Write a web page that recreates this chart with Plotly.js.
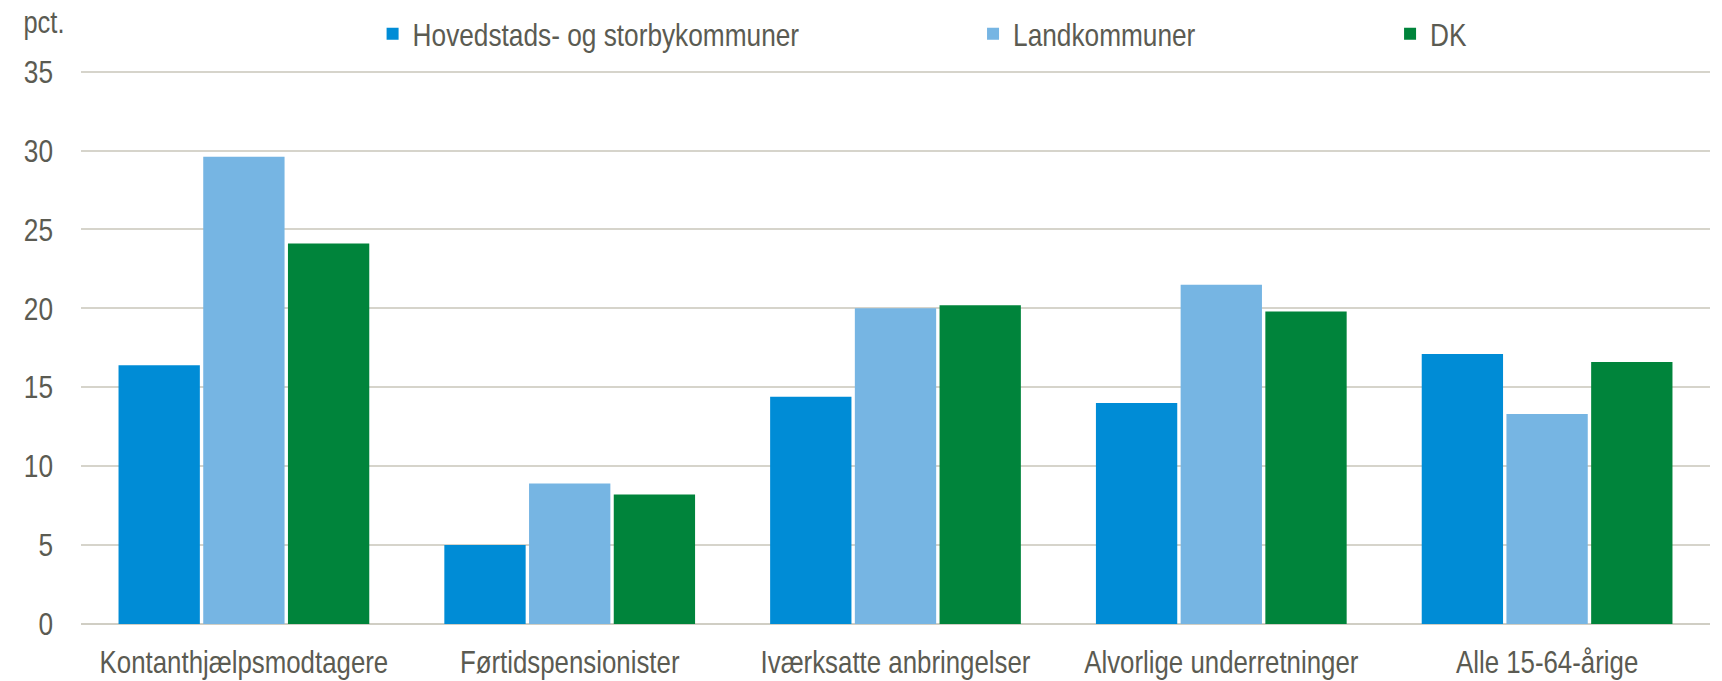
<!DOCTYPE html>
<html>
<head>
<meta charset="utf-8">
<script src="https://cdn.plot.ly/plotly-3.0.1.min.js"></script>
<style>html,body{margin:0;padding:0;background:#fff;}#chart{width:1722px;height:681px;}</style>
</head>
<body>
<div id="chart"></div>
<script>
const categories = ["Kontanthjælpsmodtagere", "Førtidspensionister", "Iværksatte anbringelser", "Alvorlige underretninger", "Alle 15-64-årige"];
const seriesNames = ["Hovedstads- og storbykommuner", "Landkommuner", "DK"];
const hovedstad = [16.4, 5.0, 14.4, 14.0, 17.1];
const landkommuner = [29.6, 8.9, 20.0, 21.5, 13.3];
const dk = [24.1, 8.2, 20.2, 19.8, 16.6];
const yTicks = [0, 5, 10, 15, 20, 25, 30, 35];
const yTitle = "pct.";

const colors = ["#008cd6", "#76b5e3", "#00843b"];
const FONT = "'Liberation Sans Narrow', 'Arial Narrow', 'Liberation Sans', Arial, sans-serif";
const TXT = "#5b5b52";
const NARROW = 0.82;
const values = [hovedstad, landkommuner, dk];
const legendIds = ["legend", "legend2", "legend3"];

const traces = values.map((v, i) => ({
  type: "bar",
  name: seriesNames[i],
  x: categories,
  y: v,
  marker: {color: colors[i], line: {width: 0}},
  legend: legendIds[i],
  hoverinfo: "x+y+name"
}));

const legendX = [0.179, 0.5476, 0.8036];
const legendBase = {
  orientation: "h", yanchor: "middle", y: 1.065, xanchor: "left",
  font: {family: FONT, size: 32, color: TXT}, bgcolor: "rgba(0,0,0,0)",
  itemwidth: 30, tracegroupgap: 0
};

const layout = {
  width: 1722, height: 681,
  margin: {l: 81, r: 12, t: 70, b: 57, autoexpand: false},
  paper_bgcolor: "#ffffff", plot_bgcolor: "#ffffff",
  barmode: "group", bargap: 0.22, bargroupgap: 0.04,
  font: {family: FONT, size: 31, color: TXT},
  showlegend: true,
  legend: Object.assign({}, legendBase, {x: legendX[0]}),
  legend2: Object.assign({}, legendBase, {x: legendX[1]}),
  legend3: Object.assign({}, legendBase, {x: legendX[2]}),
  xaxis: {
    type: "category",
    showgrid: false, showline: false, zeroline: false,
    ticks: "", ticklabelstandoff: 16, tickangle: 0, automargin: false,
    tickfont: {family: FONT, size: 31.5, color: TXT},
    fixedrange: true
  },
  yaxis: {
    range: [0, 35.1], tickvals: yTicks, ticktext: yTicks.map(String),
    showgrid: true, gridcolor: "#d6d4cb", gridwidth: 2,
    zeroline: true, zerolinecolor: "#d0cec4", zerolinewidth: 2,
    showline: false, ticks: "", ticklabelstandoff: 27, automargin: false,
    tickfont: {family: FONT, size: 32, color: TXT},
    fixedrange: true
  },
  annotations: [{
    text: yTitle, xref: "paper", yref: "paper", x: -0.0393, y: 1.051,
    xanchor: "left", yanchor: "bottom", showarrow: false,
    font: {family: FONT, size: 31, color: TXT}
  }]
};

function condense() {
  const texts = document.querySelectorAll("#chart svg text");
  texts.forEach(t => {
    const len = t.getComputedTextLength();
    if (len > 0) {
      t.setAttribute("lengthAdjust", "spacingAndGlyphs");
      t.setAttribute("textLength", (len * NARROW).toFixed(2));
    }
  });
}

Plotly.newPlot("chart", traces, layout, {displayModeBar: false, staticPlot: true}).then(condense);
</script>
</body>
</html>
